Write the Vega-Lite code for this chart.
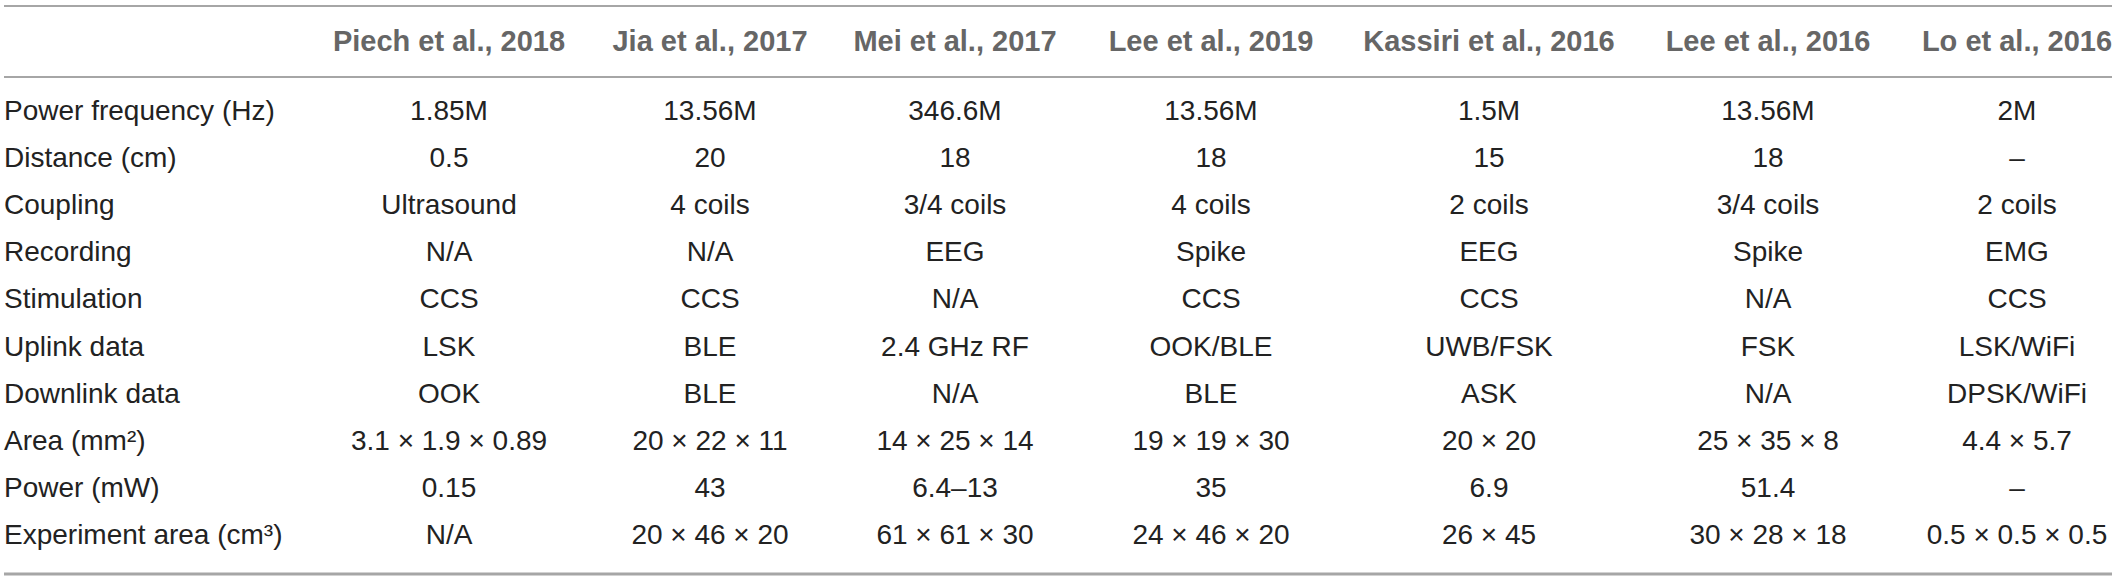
{
  "$schema": "https://vega.github.io/schema/vega-lite/v6.json",
  "width": 2118,
  "height": 580,
  "padding": 0,
  "autosize": {"type": "none"},
  "background": "white",
  "config": {"view": {"stroke": null}},
  "datasets": {
    "columns": [
      {"col": "Piech et al., 2018", "c": 1},
      {"col": "Jia et al., 2017", "c": 2},
      {"col": "Mei et al., 2017", "c": 3},
      {"col": "Lee et al., 2019", "c": 4},
      {"col": "Kassiri et al., 2016", "c": 5},
      {"col": "Lee et al., 2016", "c": 6},
      {"col": "Lo et al., 2016", "c": 7}
    ],
    "rows": [
      {"row": "Power frequency (Hz)", "r": 1},
      {"row": "Distance (cm)", "r": 2},
      {"row": "Coupling", "r": 3},
      {"row": "Recording", "r": 4},
      {"row": "Stimulation", "r": 5},
      {"row": "Uplink data", "r": 6},
      {"row": "Downlink data", "r": 7},
      {"row": "Area (mm²)", "r": 8},
      {"row": "Power (mW)", "r": 9},
      {"row": "Experiment area (cm³)", "r": 10}
    ],
    "cells": [
      {"row": "Power frequency (Hz)", "col": "Piech et al., 2018", "value": "1.85M"},
      {"row": "Power frequency (Hz)", "col": "Jia et al., 2017", "value": "13.56M"},
      {"row": "Power frequency (Hz)", "col": "Mei et al., 2017", "value": "346.6M"},
      {"row": "Power frequency (Hz)", "col": "Lee et al., 2019", "value": "13.56M"},
      {"row": "Power frequency (Hz)", "col": "Kassiri et al., 2016", "value": "1.5M"},
      {"row": "Power frequency (Hz)", "col": "Lee et al., 2016", "value": "13.56M"},
      {"row": "Power frequency (Hz)", "col": "Lo et al., 2016", "value": "2M"},
      {"row": "Distance (cm)", "col": "Piech et al., 2018", "value": "0.5"},
      {"row": "Distance (cm)", "col": "Jia et al., 2017", "value": "20"},
      {"row": "Distance (cm)", "col": "Mei et al., 2017", "value": "18"},
      {"row": "Distance (cm)", "col": "Lee et al., 2019", "value": "18"},
      {"row": "Distance (cm)", "col": "Kassiri et al., 2016", "value": "15"},
      {"row": "Distance (cm)", "col": "Lee et al., 2016", "value": "18"},
      {"row": "Distance (cm)", "col": "Lo et al., 2016", "value": "–"},
      {"row": "Coupling", "col": "Piech et al., 2018", "value": "Ultrasound"},
      {"row": "Coupling", "col": "Jia et al., 2017", "value": "4 coils"},
      {"row": "Coupling", "col": "Mei et al., 2017", "value": "3/4 coils"},
      {"row": "Coupling", "col": "Lee et al., 2019", "value": "4 coils"},
      {"row": "Coupling", "col": "Kassiri et al., 2016", "value": "2 coils"},
      {"row": "Coupling", "col": "Lee et al., 2016", "value": "3/4 coils"},
      {"row": "Coupling", "col": "Lo et al., 2016", "value": "2 coils"},
      {"row": "Recording", "col": "Piech et al., 2018", "value": "N/A"},
      {"row": "Recording", "col": "Jia et al., 2017", "value": "N/A"},
      {"row": "Recording", "col": "Mei et al., 2017", "value": "EEG"},
      {"row": "Recording", "col": "Lee et al., 2019", "value": "Spike"},
      {"row": "Recording", "col": "Kassiri et al., 2016", "value": "EEG"},
      {"row": "Recording", "col": "Lee et al., 2016", "value": "Spike"},
      {"row": "Recording", "col": "Lo et al., 2016", "value": "EMG"},
      {"row": "Stimulation", "col": "Piech et al., 2018", "value": "CCS"},
      {"row": "Stimulation", "col": "Jia et al., 2017", "value": "CCS"},
      {"row": "Stimulation", "col": "Mei et al., 2017", "value": "N/A"},
      {"row": "Stimulation", "col": "Lee et al., 2019", "value": "CCS"},
      {"row": "Stimulation", "col": "Kassiri et al., 2016", "value": "CCS"},
      {"row": "Stimulation", "col": "Lee et al., 2016", "value": "N/A"},
      {"row": "Stimulation", "col": "Lo et al., 2016", "value": "CCS"},
      {"row": "Uplink data", "col": "Piech et al., 2018", "value": "LSK"},
      {"row": "Uplink data", "col": "Jia et al., 2017", "value": "BLE"},
      {"row": "Uplink data", "col": "Mei et al., 2017", "value": "2.4 GHz RF"},
      {"row": "Uplink data", "col": "Lee et al., 2019", "value": "OOK/BLE"},
      {"row": "Uplink data", "col": "Kassiri et al., 2016", "value": "UWB/FSK"},
      {"row": "Uplink data", "col": "Lee et al., 2016", "value": "FSK"},
      {"row": "Uplink data", "col": "Lo et al., 2016", "value": "LSK/WiFi"},
      {"row": "Downlink data", "col": "Piech et al., 2018", "value": "OOK"},
      {"row": "Downlink data", "col": "Jia et al., 2017", "value": "BLE"},
      {"row": "Downlink data", "col": "Mei et al., 2017", "value": "N/A"},
      {"row": "Downlink data", "col": "Lee et al., 2019", "value": "BLE"},
      {"row": "Downlink data", "col": "Kassiri et al., 2016", "value": "ASK"},
      {"row": "Downlink data", "col": "Lee et al., 2016", "value": "N/A"},
      {"row": "Downlink data", "col": "Lo et al., 2016", "value": "DPSK/WiFi"},
      {"row": "Area (mm²)", "col": "Piech et al., 2018", "value": "3.1 × 1.9 × 0.89"},
      {"row": "Area (mm²)", "col": "Jia et al., 2017", "value": "20 × 22 × 11"},
      {"row": "Area (mm²)", "col": "Mei et al., 2017", "value": "14 × 25 × 14"},
      {"row": "Area (mm²)", "col": "Lee et al., 2019", "value": "19 × 19 × 30"},
      {"row": "Area (mm²)", "col": "Kassiri et al., 2016", "value": "20 × 20"},
      {"row": "Area (mm²)", "col": "Lee et al., 2016", "value": "25 × 35 × 8"},
      {"row": "Area (mm²)", "col": "Lo et al., 2016", "value": "4.4 × 5.7"},
      {"row": "Power (mW)", "col": "Piech et al., 2018", "value": "0.15"},
      {"row": "Power (mW)", "col": "Jia et al., 2017", "value": "43"},
      {"row": "Power (mW)", "col": "Mei et al., 2017", "value": "6.4–13"},
      {"row": "Power (mW)", "col": "Lee et al., 2019", "value": "35"},
      {"row": "Power (mW)", "col": "Kassiri et al., 2016", "value": "6.9"},
      {"row": "Power (mW)", "col": "Lee et al., 2016", "value": "51.4"},
      {"row": "Power (mW)", "col": "Lo et al., 2016", "value": "–"},
      {"row": "Experiment area (cm³)", "col": "Piech et al., 2018", "value": "N/A"},
      {"row": "Experiment area (cm³)", "col": "Jia et al., 2017", "value": "20 × 46 × 20"},
      {"row": "Experiment area (cm³)", "col": "Mei et al., 2017", "value": "61 × 61 × 30"},
      {"row": "Experiment area (cm³)", "col": "Lee et al., 2019", "value": "24 × 46 × 20"},
      {"row": "Experiment area (cm³)", "col": "Kassiri et al., 2016", "value": "26 × 45"},
      {"row": "Experiment area (cm³)", "col": "Lee et al., 2016", "value": "30 × 28 × 18"},
      {"row": "Experiment area (cm³)", "col": "Lo et al., 2016", "value": "0.5 × 0.5 × 0.5"}
    ],
    "lines": [
      {"line": "rule"}
    ]
  },
  "data": {"name": "cells"},
  "layer": [
    {
      "data": {"name": "lines"},
      "mark": {"type": "rule", "color": "#a6a6a6", "strokeWidth": 2},
      "encoding": {
        "x": {"datum": 0, "type": "quantitative", "scale": {"domain": [0, 1, 2, 3, 4, 5, 6, 7, 8], "range": [4, 449, 710, 955, 1211, 1489, 1768, 2017, 2112], "zero": false, "nice": false}, "axis": null},
        "x2": {"datum": 8},
        "y": {"datum": -1, "type": "quantitative", "scale": {"domain": [-1, 0, 0.5, 1, 10, 11], "range": [6, 42, 77, 112, 536, 574], "zero": false, "nice": false}, "axis": null}
      }
    },
    {
      "data": {"name": "lines"},
      "mark": {"type": "rule", "color": "#a6a6a6", "strokeWidth": 2},
      "encoding": {
        "x": {"datum": 0, "type": "quantitative", "axis": null},
        "x2": {"datum": 8},
        "y": {"datum": 0.5, "type": "quantitative", "axis": null}
      }
    },
    {
      "data": {"name": "lines"},
      "mark": {"type": "rule", "color": "#a6a6a6", "strokeWidth": 3},
      "encoding": {
        "x": {"datum": 0, "type": "quantitative", "axis": null},
        "x2": {"datum": 8},
        "y": {"datum": 11, "type": "quantitative", "axis": null}
      }
    },
    {
      "data": {"name": "columns"},
      "mark": {"type": "text", "align": "center", "baseline": "middle", "fontWeight": "bold", "color": "#666666", "font": "Liberation Sans", "fontSize": 29},
      "encoding": {
        "x": {"field": "c", "type": "quantitative", "axis": null},
        "y": {"datum": 0, "type": "quantitative", "axis": null},
        "text": {"field": "col"}
      }
    },
    {
      "data": {"name": "rows"},
      "mark": {"type": "text", "align": "left", "baseline": "middle", "color": "#222222", "font": "Liberation Sans", "fontSize": 28},
      "encoding": {
        "x": {"datum": 0, "type": "quantitative", "axis": null},
        "y": {"field": "r", "type": "quantitative", "axis": null},
        "text": {"field": "row"}
      }
    },
    {
      "transform": [
        {"lookup": "col", "from": {"data": {"name": "columns"}, "key": "col", "fields": ["c"]}},
        {"lookup": "row", "from": {"data": {"name": "rows"}, "key": "row", "fields": ["r"]}}
      ],
      "mark": {"type": "text", "align": "center", "baseline": "middle", "color": "#222222", "font": "Liberation Sans", "fontSize": 28},
      "encoding": {
        "x": {"field": "c", "type": "quantitative", "axis": null},
        "y": {"field": "r", "type": "quantitative", "axis": null},
        "text": {"field": "value"}
      }
    }
  ]
}
